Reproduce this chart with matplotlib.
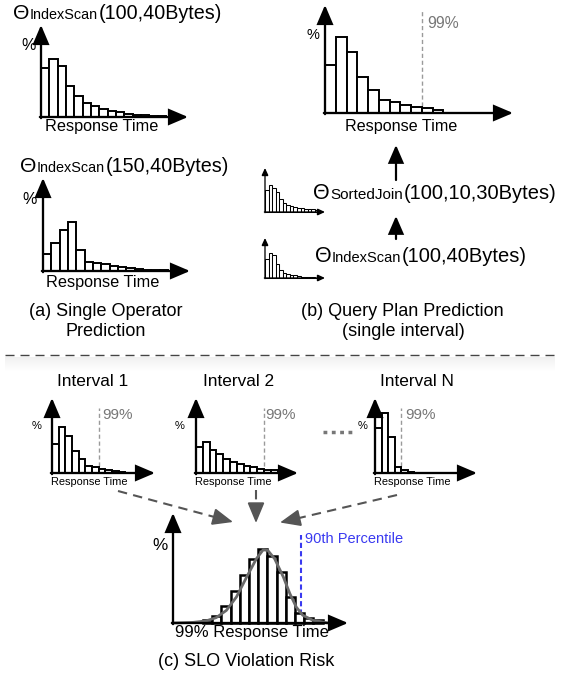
import matplotlib
matplotlib.use('Agg')
import matplotlib.pyplot as plt
import numpy as np
from matplotlib.patches import FancyArrowPatch

plt.rcParams['font.family'] = ['Liberation Sans', 'DejaVu Sans']

# ---------------- data (percent per response-time bin) ----------------
a1_values = [16.3, 19.3, 16.9, 10.4, 7.1, 4.7, 3.6, 2.7, 2.0, 1.6, 1.1, 0.8, 0.6, 0.4, 0.3]
a2_values = [5.8, 9.3, 13.8, 16.3, 7.1, 3.0, 2.7, 2.2, 1.8, 1.3, 1.0, 0.8, 0.4, 0.3, 0.2]
b_top_values = [15.9, 25.2, 20.2, 11.9, 7.6, 4.2, 3.6, 2.7, 2.1, 1.7, 0.9]
b_join_values = [14.7, 18.0, 16.0, 13.3, 8.7, 6.0, 4.7, 4.0, 3.3, 3.0, 2.7, 2.3, 2.0, 1.7, 1.3]
b_scan_values = [12.7, 16.7, 15.3, 9.3, 5.3, 3.3, 2.7, 2.0, 1.7, 1.3, 1.0, 0.7, 0.7, 0.5, 0.3]
int1_values = [9.6, 15.4, 12.3, 7.4, 4.7, 2.3, 1.9, 1.4, 1.0, 0.7, 0.4]
int2_values = [8.7, 10.3, 7.8, 6.2, 4.6, 3.8, 3.0, 2.3, 1.9, 1.2, 1.0, 0.9]
intN_values = [14.9, 20.0, 12.0, 2.0, 0.9, 0.4]
c_values = [0.9, 2.2, 5.6, 10.8, 15.9, 21.3, 24.7, 22.3, 17.0, 8.6, 3.5, 1.6, 0.9]
c_first_bin = 3.26
c_curve_x = [0, 2.17, 3.6, 4.7, 5.8, 6.9, 8.0, 9.06, 9.8, 10.3, 11.05, 12.0, 12.7, 13.4, 14.1, 15.2, 16.7]
c_curve_y = [0, 0.2, 0.7, 1.8, 4.2, 8.7, 15.3, 21.4, 24.4, 24.2, 21.4, 15.3, 9.8, 5.3, 2.6, 0.9, 0.1]
p99_b_top, p99_int1, p99_int2, p99_intN = 9.05, 7.0, 10.0, 4.0
p90_c = 13.9

W, H = 569, 677
fig = plt.figure(figsize=(W / 100, H / 100), dpi=100)
ov = fig.add_axes([0, 0, 1, 1])
ov.set_zorder(10)
ov.patch.set_visible(False)
renderer = fig.canvas.get_renderer()


def pt(p):
    return p * 0.72


def arrow(p0, p1, lw=2.0, hl=16, hw=6.5, color='black'):
    a = FancyArrowPatch(p0, p1, arrowstyle=f'-|>,head_length={pt(hl)},head_width={pt(hw)}',
                        mutation_scale=1, lw=pt(lw), color=color, shrinkA=0, shrinkB=0,
                        clip_on=False, joinstyle='miter')
    ov.add_patch(a)


def hist(values, x0, ybase, xtip, ytip, bw, scale, lw=1.4, start=0.0, axlw=2.3, hl=16, hw=6.8):
    ax = fig.add_axes([x0 / W, (H - ybase) / H, (xtip - x0) / W, (ybase - ytip) / H])
    ax.set_xlim(0, (xtip - x0) / bw)
    ax.set_ylim(0, (ybase - ytip) / scale)
    ax.axis('off')
    lefts = start + np.arange(len(values))
    ax.bar(lefts, values, width=1, align='edge', facecolor='white', edgecolor='black',
           linewidth=lw, clip_on=False, zorder=2)
    arrow((x0, ybase + axlw / 2), (x0, ytip), lw=axlw, hl=hl, hw=hw)
    arrow((x0 - axlw / 2, ybase), (xtip, ybase), lw=axlw, hl=hl, hw=hw)
    return ax


def theta_label(x, yb, sub, rest, fs_main, fs_sub):
    cur = x
    for s, fs in (('Θ', fs_main + 1.0), (sub, fs_sub), (rest, fs_main)):
        t = ov.text(cur, yb, s, fontsize=fs, ha='left', va='baseline', color='black')
        bb = t.get_window_extent(renderer)
        cur = ov.transData.inverted().transform((bb.x1, bb.y0))[0] + 0.5


def p_line(ax, p, top_px, ybase, scale, color='#9a9a9a', lw=1.0, dashes=(3, 2)):
    ax.plot([p, p], [0, (ybase - top_px) / scale], color=color, lw=lw, dashes=dashes,
            clip_on=False, zorder=1)


ov.set_xlim(0, W)
ov.set_ylim(H, 0)

# ---------------- (a) single operator ----------------
theta_label(13, 19, 'IndexScan', '(100,40Bytes)', 14.2, 10.4)
hist(a1_values, 41, 117, 188, 25, 8.33, 3)
ov.text(29, 45, '%', fontsize=11.5, ha='center', va='center')
ov.text(102, 127, 'Response Time', fontsize=11.7, ha='center', va='center')

theta_label(20, 172, 'IndexScan', '(150,40Bytes)', 14.2, 10.4)
hist(a2_values, 43, 271, 190, 178, 8.33, 3)
ov.text(30, 200, '%', fontsize=11.5, ha='center', va='center')
ov.text(102.5, 283, 'Response Time', fontsize=11.7, ha='center', va='center')
ov.text(106, 312, '(a) Single Operator', fontsize=13, ha='center', va='center')
ov.text(106, 331, 'Prediction', fontsize=13, ha='center', va='center')

# ---------------- (b) query plan ----------------
axb = hist(b_top_values, 325, 113, 513, 5, 10.76, 3)
p_line(axb, p99_b_top, 10, 113, 3)
ov.text(427, 24, '99%', fontsize=11.3, ha='left', va='center', color='#777777')
ov.text(313, 35, '%', fontsize=10.5, ha='center', va='center')
ov.text(401.5, 127, 'Response Time', fontsize=11.6, ha='center', va='center')

arrow((396, 180), (396, 145), lw=2.2, hl=15, hw=6.5)
arrow((396, 239), (396, 216), lw=2.2, hl=15, hw=6.5)
theta_label(313, 199, 'SortedJoin', '(100,10,30Bytes)', 14.5, 11)
theta_label(315, 262, 'IndexScan', '(100,40Bytes)', 14.5, 10.5)

hist(b_join_values, 265, 212, 325, 168, 3.55, 1.5, lw=0.75, axlw=1.3, hl=6, hw=2.8)
hist(b_scan_values, 265, 278, 325, 238, 3.55, 1.5, lw=0.75, axlw=1.3, hl=6, hw=2.8)
ov.text(402, 312, '(b) Query Plan Prediction', fontsize=13, ha='center', va='center')
ov.text(403, 331, '(single interval)', fontsize=13, ha='center', va='center')

# ---------------- separator ----------------
ov.plot([5, 558], [355, 355], color='#444444', lw=1.0, dashes=(6.5, 4.3))
grad = np.zeros((20, 1, 4))
grad[:, 0, 3] = np.linspace(0.06, 0.0, 20)
ov.imshow(grad, extent=[5, 555, 372, 357], aspect='auto', zorder=0)
ov.set_xlim(0, W)
ov.set_ylim(H, 0)
ov.axis('off')

# ---------------- (c) intervals ----------------
for cx, name in ((92.5, 'Interval 1'), (239, 'Interval 2'), (416.7, 'Interval N')):
    ov.text(cx, 382, name, fontsize=12.4, ha='center', va='center')

ax1 = hist(int1_values, 52, 473, 155, 398, 6.67, 3, lw=1.4)
ax2 = hist(int2_values, 196, 473, 298, 398, 6.8, 3, lw=1.4)
axn = hist(intN_values, 375, 473, 477, 398, 6.5, 3, lw=1.4)
p_line(ax1, p99_int1, 408, 473, 3)
p_line(ax2, p99_int2, 408, 473, 3)
p_line(axn, p99_intN, 408, 473, 3)
for xl, xp, x0 in ((102, 37, 52), (265, 180, 196), (405, 363, 375)):
    ov.text(xl, 415, '99%', fontsize=11, ha='left', va='center', color='#777777')
    ov.text(xp, 426, '%', fontsize=8, ha='center', va='center')
    ov.text(x0 - 1, 482, 'Response Time', fontsize=7.9, ha='left', va='center')

ov.plot([323, 353], [432, 432], color='#777777', lw=2.5, linestyle=(0, (1.1, 1.3)))

# dashed grey arrows
for (xa, ya), (xb, yb) in (((118, 491), (233, 522)), ((256, 490), (256, 523)), ((397, 495), (280, 522.5))):
    d = np.array([xb - xa, yb - ya], float)
    u = d / np.hypot(*d)
    hx, hy = xb - u[0] * 17, yb - u[1] * 17
    ov.plot([xa, hx], [ya, hy], color='#555555', lw=1.5, dashes=(4.5, 3))
    arrow((hx, hy), (xb, yb), lw=1.5, hl=18, hw=7.5, color='#555555')

axc = hist(c_values, 173, 623, 348, 513, 9.2, 3, lw=1.8, start=c_first_bin)
axc.plot(c_curve_x, c_curve_y, color='#6a6a6a', lw=2.0, zorder=3, clip_on=False)
p_line(axc, p90_c, 535, 623, 3, color='#3a3af0', lw=1.5, dashes=(2.5, 1.5))
ov.text(305, 539, '90th Percentile', fontsize=10.5, ha='left', va='center', color='#3a3af0')
ov.text(160.5, 546, '%', fontsize=12.3, ha='center', va='center')
ov.text(251.5, 633, '99% Response Time', fontsize=12, ha='center', va='center')
ov.text(246, 662, '(c) SLO Violation Risk', fontsize=13, ha='center', va='center')

fig.savefig('out.png', dpi=100)
